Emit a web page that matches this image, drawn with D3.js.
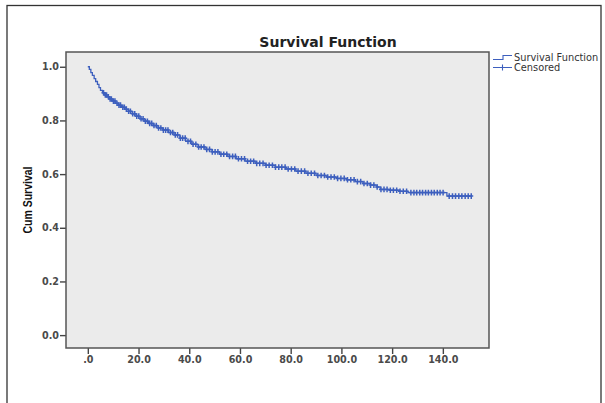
<!DOCTYPE html>
<html>
<head>
<meta charset="utf-8">
<script src="https://cdn.jsdelivr.net/npm/d3@7"></script>
<style>
  body { margin: 0; background: #fff; }
  svg { display: block; }
</style>
</head>
<body>
<div id="chart"></div>
<script>
// Kaplan-Meier step values
var stepTimes = [0, 0.6, 1.2, 1.8, 2.5, 3.1, 3.8, 4.4, 5.0, 5.8, 6.7, 7.5, 8.5, 9.6, 10.8, 12.0,
  13.3, 14.6, 16.0, 17.5, 19.0, 20.6, 22.2, 24.0, 25.8, 27.7, 29.6, 31.8, 34.0, 36.3, 38.6,
  41.0, 43.5, 46.2, 49.0, 52.0, 55.2, 58.5, 62.0, 66.0, 70.0, 74.0, 78.0, 82.0, 86.0, 90.0,
  94.0, 98.0, 102.0, 105.5, 108.5, 111.5, 114.0, 115.3, 119.0, 123.0, 126.3, 141.6];
var stepSurvival = [1.0, 0.990, 0.978, 0.968, 0.956, 0.945, 0.934, 0.922, 0.912, 0.903, 0.895,
  0.888, 0.880, 0.872, 0.864, 0.857, 0.849, 0.842, 0.834, 0.825, 0.816, 0.806, 0.797, 0.789,
  0.781, 0.772, 0.764, 0.755, 0.746, 0.734, 0.722, 0.711, 0.701, 0.692, 0.683, 0.674, 0.666,
  0.657, 0.648, 0.640, 0.633, 0.626, 0.619, 0.611, 0.603, 0.595, 0.589, 0.584, 0.579, 0.572,
  0.565, 0.559, 0.552, 0.543, 0.540, 0.536, 0.531, 0.518];
var followUpEnd = 151.4;

var censoredTimes = [6.2, 6.9, 7.4, 8.1, 8.8, 9.3, 10.1, 10.7, 11.5, 12.3, 12.9, 13.8, 14.4, 15.2,
  16.1, 16.8, 17.7, 18.5, 19.3, 20.1, 21.0, 21.8, 22.7, 23.5, 24.4, 25.2, 26.1, 27.0, 27.9, 28.8,
  29.8, 30.7, 31.6, 32.6, 33.5, 34.5, 35.4, 36.5, 37.4, 38.4, 39.5, 40.5, 41.5, 42.6, 43.7, 44.7,
  45.8, 46.9, 48.0, 49.1, 50.2, 51.3, 52.5, 53.6, 54.8, 55.9, 57.1, 58.2, 59.4, 60.6, 61.8, 63.0,
  64.2, 65.4, 66.6, 67.8, 69.1, 70.3, 71.5, 72.8, 74.0, 75.3, 76.5, 77.8, 79.0, 80.3, 81.6, 82.9,
  84.2, 85.5, 86.8, 88.1, 89.4, 90.7, 92.0, 93.3, 94.6, 95.9, 97.2, 98.5, 99.8, 101.1, 102.4,
  103.7, 105.0, 106.3, 107.6, 108.9, 110.2, 111.5, 112.8, 114.1, 115.6, 116.8, 118.0, 119.3,
  120.5, 121.8, 123.1, 124.4, 125.7, 127.4, 128.6, 129.7, 130.9, 132.0, 133.2, 134.3, 135.5,
  136.6, 137.8, 138.9, 140.1, 142.5, 143.8, 145.0, 146.3, 147.5, 148.8, 150.0, 151.2];

var xTicks = [0, 20, 40, 60, 80, 100, 120, 140];
var yTicks = [0, 0.2, 0.4, 0.6, 0.8, 1.0];
var legendLabels = ["Survival Function", "Censored"];

var svgWidth = 605;
var svgHeight = 403;
var plot = { left: 66, right: 489, top: 52, bottom: 348 };
var blue = "#3d5fbe";

var svg = d3.select("#chart")
  .append("svg")
  .attr("width", svgWidth)
  .attr("height", svgHeight);

// outer frame (bottom edge falls outside the picture)
svg.append("rect")
  .attr("x", 7).attr("y", 5.5)
  .attr("width", 594).attr("height", 420)
  .attr("fill", "none")
  .attr("stroke", "#333")
  .attr("stroke-width", 1.3);

var xScale = d3.scaleLinear()
  .domain([-8.6, 158.2])
  .range([plot.left, plot.right]);

var yScale = d3.scaleLinear()
  .domain([-0.048, 1.055])
  .range([plot.bottom, plot.top]);

// plot background
svg.append("rect")
  .attr("x", plot.left).attr("y", plot.top)
  .attr("width", plot.right - plot.left)
  .attr("height", plot.bottom - plot.top)
  .attr("fill", "#ebebeb");

// axes
var xAxis = d3.axisBottom(xScale)
  .tickValues(xTicks)
  .tickSize(6)
  .tickPadding(2)
  .tickFormat(d => d === 0 ? ".0" : d3.format(".1f")(d));

var yAxis = d3.axisLeft(yScale)
  .tickValues(yTicks)
  .tickSize(6)
  .tickPadding(1)
  .tickFormat(d3.format(".1f"));

var gx = svg.append("g")
  .attr("transform", `translate(0, ${plot.bottom})`)
  .call(xAxis);
var gy = svg.append("g")
  .attr("transform", `translate(${plot.left}, 0)`)
  .call(yAxis);

[gx, gy].forEach(g => {
  g.select(".domain").remove();
  g.selectAll(".tick line").attr("stroke", "#444").attr("stroke-width", 1.4);
  g.selectAll(".tick text")
    .attr("fill", "#4a4a4a")
    .attr("font-family", "DejaVu Sans")
    .attr("font-weight", "bold")
    .attr("font-size", 9.6);
});

// plot border
svg.append("rect")
  .attr("x", plot.left).attr("y", plot.top)
  .attr("width", plot.right - plot.left)
  .attr("height", plot.bottom - plot.top)
  .attr("fill", "none")
  .attr("stroke", "#555")
  .attr("stroke-width", 1.5);

// survival curve
var steps = stepTimes.map((t, i) => ({ t: t, s: stepSurvival[i] }));
steps.push({ t: followUpEnd, s: stepSurvival[stepSurvival.length - 1] });

var line = d3.line()
  .x(d => xScale(d.t))
  .y(d => yScale(d.s))
  .curve(d3.curveStepAfter);

svg.append("path")
  .datum(steps)
  .attr("d", line)
  .attr("fill", "none")
  .attr("stroke", blue)
  .attr("stroke-width", 1.3);

// censored marks
function survivalAt(t) {
  var i = d3.bisectRight(stepTimes, t) - 1;
  return stepSurvival[Math.max(0, i)];
}

var marks = svg.append("g")
  .attr("stroke", blue)
  .attr("stroke-width", 1.5);

marks.selectAll("path")
  .data(censoredTimes)
  .enter()
  .append("path")
  .attr("d", d => {
    var x = xScale(d), y = yScale(survivalAt(d));
    return `M${x},${y - 2.8}V${y + 2.8}M${x - 2},${y}H${x + 2}`;
  });

// title
svg.append("text")
  .attr("x", 328)
  .attr("y", 47)
  .attr("text-anchor", "middle")
  .attr("font-family", "DejaVu Sans")
  .attr("font-weight", "bold")
  .attr("font-size", 14)
  .attr("fill", "#222")
  .text("Survival Function");

// y axis label
svg.append("text")
  .attr("transform", "translate(32, 200) rotate(-90)")
  .attr("text-anchor", "middle")
  .attr("font-family", "Liberation Sans")
  .attr("font-weight", "bold")
  .attr("font-size", 12.5)
  .attr("textLength", 67)
  .attr("lengthAdjust", "spacingAndGlyphs")
  .attr("fill", "#111")
  .text("Cum Survival");

// legend
var legend = svg.append("g").attr("transform", "translate(493, 0)");

legend.append("path")
  .attr("d", "M0,59.5H10V55.5H19")
  .attr("fill", "none")
  .attr("stroke", blue)
  .attr("stroke-width", 1.1);

legend.append("path")
  .attr("d", "M0,67.5H19M9.5,64.5V70.5")
  .attr("fill", "none")
  .attr("stroke", blue)
  .attr("stroke-width", 1.1);

legend.selectAll("text")
  .data(legendLabels)
  .enter()
  .append("text")
  .attr("x", 21)
  .attr("y", (d, i) => 60.5 + i * 10)
  .attr("font-family", "DejaVu Sans")
  .attr("font-size", 9.8)
  .attr("fill", "#333")
  .text(d => d);
</script>
</body>
</html>
